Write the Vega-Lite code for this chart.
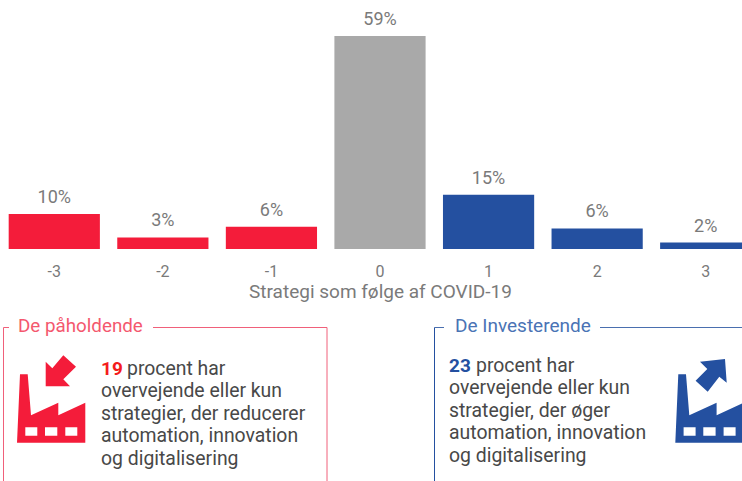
{
"$schema":"https://vega.github.io/schema/vega-lite/v6.json",
"padding":0,
"background":"white",
"autosize":{"type":"pad"},
"bounds":"flush",
"spacing":51,
"config":{"view":{"stroke":null},"font":"Roboto"},
"vconcat":[
{"width":760,"height":249,
"data":{"values":[
{"strategi":"-3","andel":9.7,"label":"10%","gruppe":"De påholdende"},
{"strategi":"-2","andel":3.2,"label":"3%","gruppe":"De påholdende"},
{"strategi":"-1","andel":6.2,"label":"6%","gruppe":"De påholdende"},
{"strategi":"0","andel":59,"label":"59%","gruppe":"Neutral"},
{"strategi":"1","andel":15,"label":"15%","gruppe":"De Investerende"},
{"strategi":"2","andel":5.7,"label":"6%","gruppe":"De Investerende"},
{"strategi":"3","andel":1.8,"label":"2%","gruppe":"De Investerende"}]},
"encoding":{
"x":{"field":"strategi","type":"nominal","sort":null,
"scale":{"paddingInner":0.16,"paddingOuter":0.08},
"axis":{"title":"Strategi som følge af COVID-19","labelAngle":0,"ticks":false,"domain":false,"grid":false,"labelFontSize":16,"labelColor":"#7a7a7a","labelPadding":14,"titleFontSize":19,"titleFontWeight":"normal","titleColor":"#7a7a7a","titlePadding":3,"titleX":380}},
"y":{"field":"andel","type":"quantitative","scale":{"domain":[0,69],"nice":false},"axis":null}},
"layer":[
{"mark":{"type":"bar"},
"encoding":{"color":{"field":"gruppe","type":"nominal","legend":null,"scale":{"domain":["De påholdende","Neutral","De Investerende"],"range":["#F41C3A","#A9A9A9","#2450A0"]}}}},
{"mark":{"type":"text","baseline":"bottom","dy":-7,"fontSize":18,"color":"#7a7a7a"},"encoding":{"text":{"field":"label"}}}
]},
{"width":742,"height":181,
"encoding":{
"x":{"type":"quantitative","scale":{"domain":[0,742],"nice":false},"axis":null},
"y":{"type":"quantitative","scale":{"domain":[481,300],"nice":false},"axis":null}},
"layer":[
{"data":{"values":[{"tekst":"De påholdende"}]},"mark":{"type":"text","align":"left","baseline":"middle","fontSize":18.8,"color":"#F4586E"},"encoding":{"text":{"field":"tekst"},"x":{"datum":18},"y":{"datum":326}}},
{"data":{"values":[{"tekst":"De Investerende"}]},"mark":{"type":"text","align":"left","baseline":"middle","fontSize":19,"color":"#4A73B5"},"encoding":{"text":{"field":"tekst"},"x":{"datum":455},"y":{"datum":326}}},
{"data":{"values":[{}]},"mark":{"type":"rule","color":"#F0607A","strokeWidth":1},"encoding":{"x":{"datum":153},"x2":{"datum":327},"y":{"datum":327.5}}},
{"data":{"values":[{}]},"mark":{"type":"rule","color":"#F0607A","strokeWidth":1},"encoding":{"x":{"datum":3.5},"x2":{"datum":9},"y":{"datum":327.5}}},
{"data":{"values":[{}]},"mark":{"type":"rule","color":"#F0607A","strokeWidth":1},"encoding":{"x":{"datum":3.5},"y":{"datum":327.5},"y2":{"datum":481}}},
{"data":{"values":[{}]},"mark":{"type":"rule","color":"#F0607A","strokeWidth":1},"encoding":{"x":{"datum":327},"y":{"datum":327.5},"y2":{"datum":481}}},
{"data":{"values":[{}]},"mark":{"type":"rule","color":"#4A6FAF","strokeWidth":1},"encoding":{"x":{"datum":600},"x2":{"datum":742},"y":{"datum":327.5}}},
{"data":{"values":[{}]},"mark":{"type":"rule","color":"#4A6FAF","strokeWidth":1},"encoding":{"x":{"datum":434.5},"x2":{"datum":444},"y":{"datum":327.5}}},
{"data":{"values":[{}]},"mark":{"type":"rule","color":"#2450A0","strokeWidth":1},"encoding":{"x":{"datum":434.5},"y":{"datum":327.5},"y2":{"datum":481}}},
{"data":{"values":[{"linje":"19"}]},"mark":{"type":"text","align":"left","baseline":"middle","fontSize":19,"fontWeight":"bold","color":"#F41C1C"},"encoding":{"text":{"field":"linje"},"x":{"datum":101},"y":{"datum":369}}},
{"data":{"values":[{"linje":"23"}]},"mark":{"type":"text","align":"left","baseline":"middle","fontSize":19,"fontWeight":"bold","color":"#2450A0"},"encoding":{"text":{"field":"linje"},"x":{"datum":449},"y":{"datum":366}}},
{"data":{"values":[{"t":"procent har"}]},"mark":{"type":"text","align":"left","baseline":"middle","fontSize":19.4,"color":"#484848"},"encoding":{"text":{"field":"t"},"x":{"datum":127},"y":{"datum":369}}},
{"data":{"values":[{"t":"overvejende eller kun"}]},"mark":{"type":"text","align":"left","baseline":"middle","fontSize":19.4,"color":"#484848"},"encoding":{"text":{"field":"t"},"x":{"datum":101},"y":{"datum":391}}},
{"data":{"values":[{"t":"strategier, der reducerer"}]},"mark":{"type":"text","align":"left","baseline":"middle","fontSize":19.4,"color":"#484848"},"encoding":{"text":{"field":"t"},"x":{"datum":101},"y":{"datum":414}}},
{"data":{"values":[{"t":"automation, innovation"}]},"mark":{"type":"text","align":"left","baseline":"middle","fontSize":19.4,"color":"#484848"},"encoding":{"text":{"field":"t"},"x":{"datum":101},"y":{"datum":436}}},
{"data":{"values":[{"t":"og digitalisering"}]},"mark":{"type":"text","align":"left","baseline":"middle","fontSize":19.4,"color":"#484848"},"encoding":{"text":{"field":"t"},"x":{"datum":101},"y":{"datum":459}}},
{"data":{"values":[{"t":"procent har"}]},"mark":{"type":"text","align":"left","baseline":"middle","fontSize":19.4,"color":"#484848"},"encoding":{"text":{"field":"t"},"x":{"datum":476},"y":{"datum":366}}},
{"data":{"values":[{"t":"overvejende eller kun"}]},"mark":{"type":"text","align":"left","baseline":"middle","fontSize":19.4,"color":"#484848"},"encoding":{"text":{"field":"t"},"x":{"datum":449},"y":{"datum":388}}},
{"data":{"values":[{"t":"strategier, der øger"}]},"mark":{"type":"text","align":"left","baseline":"middle","fontSize":19.4,"color":"#484848"},"encoding":{"text":{"field":"t"},"x":{"datum":449},"y":{"datum":411}}},
{"data":{"values":[{"t":"automation, innovation"}]},"mark":{"type":"text","align":"left","baseline":"middle","fontSize":19.4,"color":"#484848"},"encoding":{"text":{"field":"t"},"x":{"datum":449},"y":{"datum":433}}},
{"data":{"values":[{"t":"og digitalisering"}]},"mark":{"type":"text","align":"left","baseline":"middle","fontSize":19.4,"color":"#484848"},"encoding":{"text":{"field":"t"},"x":{"datum":449},"y":{"datum":456}}},
{"data":{"values":[{}]},"mark":{"type":"point","filled":true,"opacity":1,"size":4,"color":"#F41C3A","shape":"M-34 34.7L-31-33.7L-23.3-33.7L-20 7.3L7.3-5.3L7.3 7.3L34.3-5.3L34.3 34.7ZM-25.7 19.3L-25.7 27.7L-13.7 27.7L-13.7 19.3ZM-6 19.3L-6 27.7L6.3 27.7L6.3 19.3ZM14.3 19.3L14.3 27.7L26.3 27.7L26.3 19.3ZM-5.3-46.3L-5.3-21.7L19-21.7L12.3-28.7L25-41.3L12.3-52.7L1.3-39.7Z"},"encoding":{"x":{"datum":51},"y":{"datum":408}}},
{"data":{"values":[{}]},"mark":{"type":"point","filled":true,"opacity":1,"size":4,"color":"#2450A0","shape":"M-34 34.7L-31-33.7L-23.3-33.7L-20 7.3L7.3-5.3L7.3 7.3L34.3-5.3L34.3 34.7ZM-25.7 19.3L-25.7 27.7L-13.7 27.7L-13.7 19.3ZM-6 19.3L-6 27.7L6.3 27.7L6.3 19.3ZM14.3 19.3L14.3 27.7L26.3 27.7L26.3 19.3ZM15.7-49L-9.3-46.3L-2-39L-13.7-27.3L-1.6-16.3L10-31.3L17.4-25.3Z"},"encoding":{"x":{"datum":709.3},"y":{"datum":408}}}
]}
]}
